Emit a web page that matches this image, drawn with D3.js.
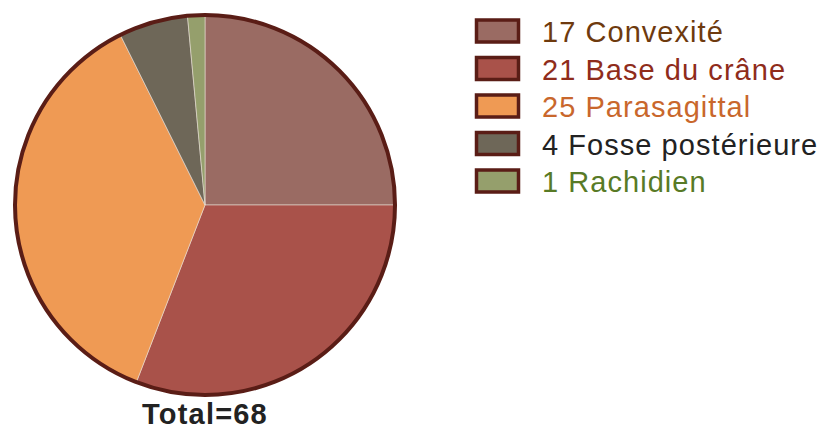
<!DOCTYPE html>
<html><head><meta charset="utf-8">
<script src="https://cdn.jsdelivr.net/npm/d3@7"></script>
<style>body{margin:0;background:#fff}</style>
</head><body>
<svg id="chart" width="821" height="430"></svg>
<script>
const categories = ["Convexité", "Base du crâne", "Parasagittal", "Fosse postérieure", "Rachidien"];
const values = [17, 21, 25, 4, 1];
const sliceColors = ["#9a6b63", "#a9524a", "#ef9a54", "#6e6758", "#959f6c"];
const textColors = ["#6e3a0e", "#8f2c1b", "#c9672c", "#222222", "#587a26"];
const totalLabel = "Total=68";

const svg = d3.select("#chart");
const cx = 205, cy = 205, r = 190;
const outline = "#5a1d16";

const pie = d3.pie().sort(null).value(d => d)(values);
const arc = d3.arc().innerRadius(0).outerRadius(r);
const g = svg.append("g").attr("transform", `translate(${cx},${cy})`);
g.selectAll("path.slice").data(pie).join("path")
  .attr("class","slice")
  .attr("d", arc)
  .attr("fill", (d,i) => sliceColors[i])
  .attr("stroke", "#e8ddd5").attr("stroke-width", 0.6);
g.append("circle").attr("r", r).attr("fill","none").attr("stroke", outline).attr("stroke-width", 4);

svg.append("text").attr("x", cx).attr("y", 424).attr("text-anchor","middle")
  .attr("font-family","Liberation Sans, Arial, sans-serif").attr("font-weight","bold")
  .attr("font-size", 29).attr("letter-spacing", 1.2).attr("fill","#222").text(totalLabel);

const leg = svg.append("g");
const rowY = d3.scaleLinear().domain([0,1]).range([18.5, 56]);
categories.forEach((c,i) => {
  const y = rowY(i);
  leg.append("rect").attr("x", 476.5).attr("y", y+1.5).attr("width", 42).attr("height", 22)
    .attr("fill", sliceColors[i]).attr("stroke", outline).attr("stroke-width", 3.5);
  leg.append("text").attr("x", 542).attr("y", y + 23.8)
    .attr("font-family","Liberation Sans, Arial, sans-serif").attr("font-size", 29)
    .attr("letter-spacing", 1.05)
    .attr("fill", textColors[i]).text(values[i] + " " + c);
});
</script>
</body></html>
